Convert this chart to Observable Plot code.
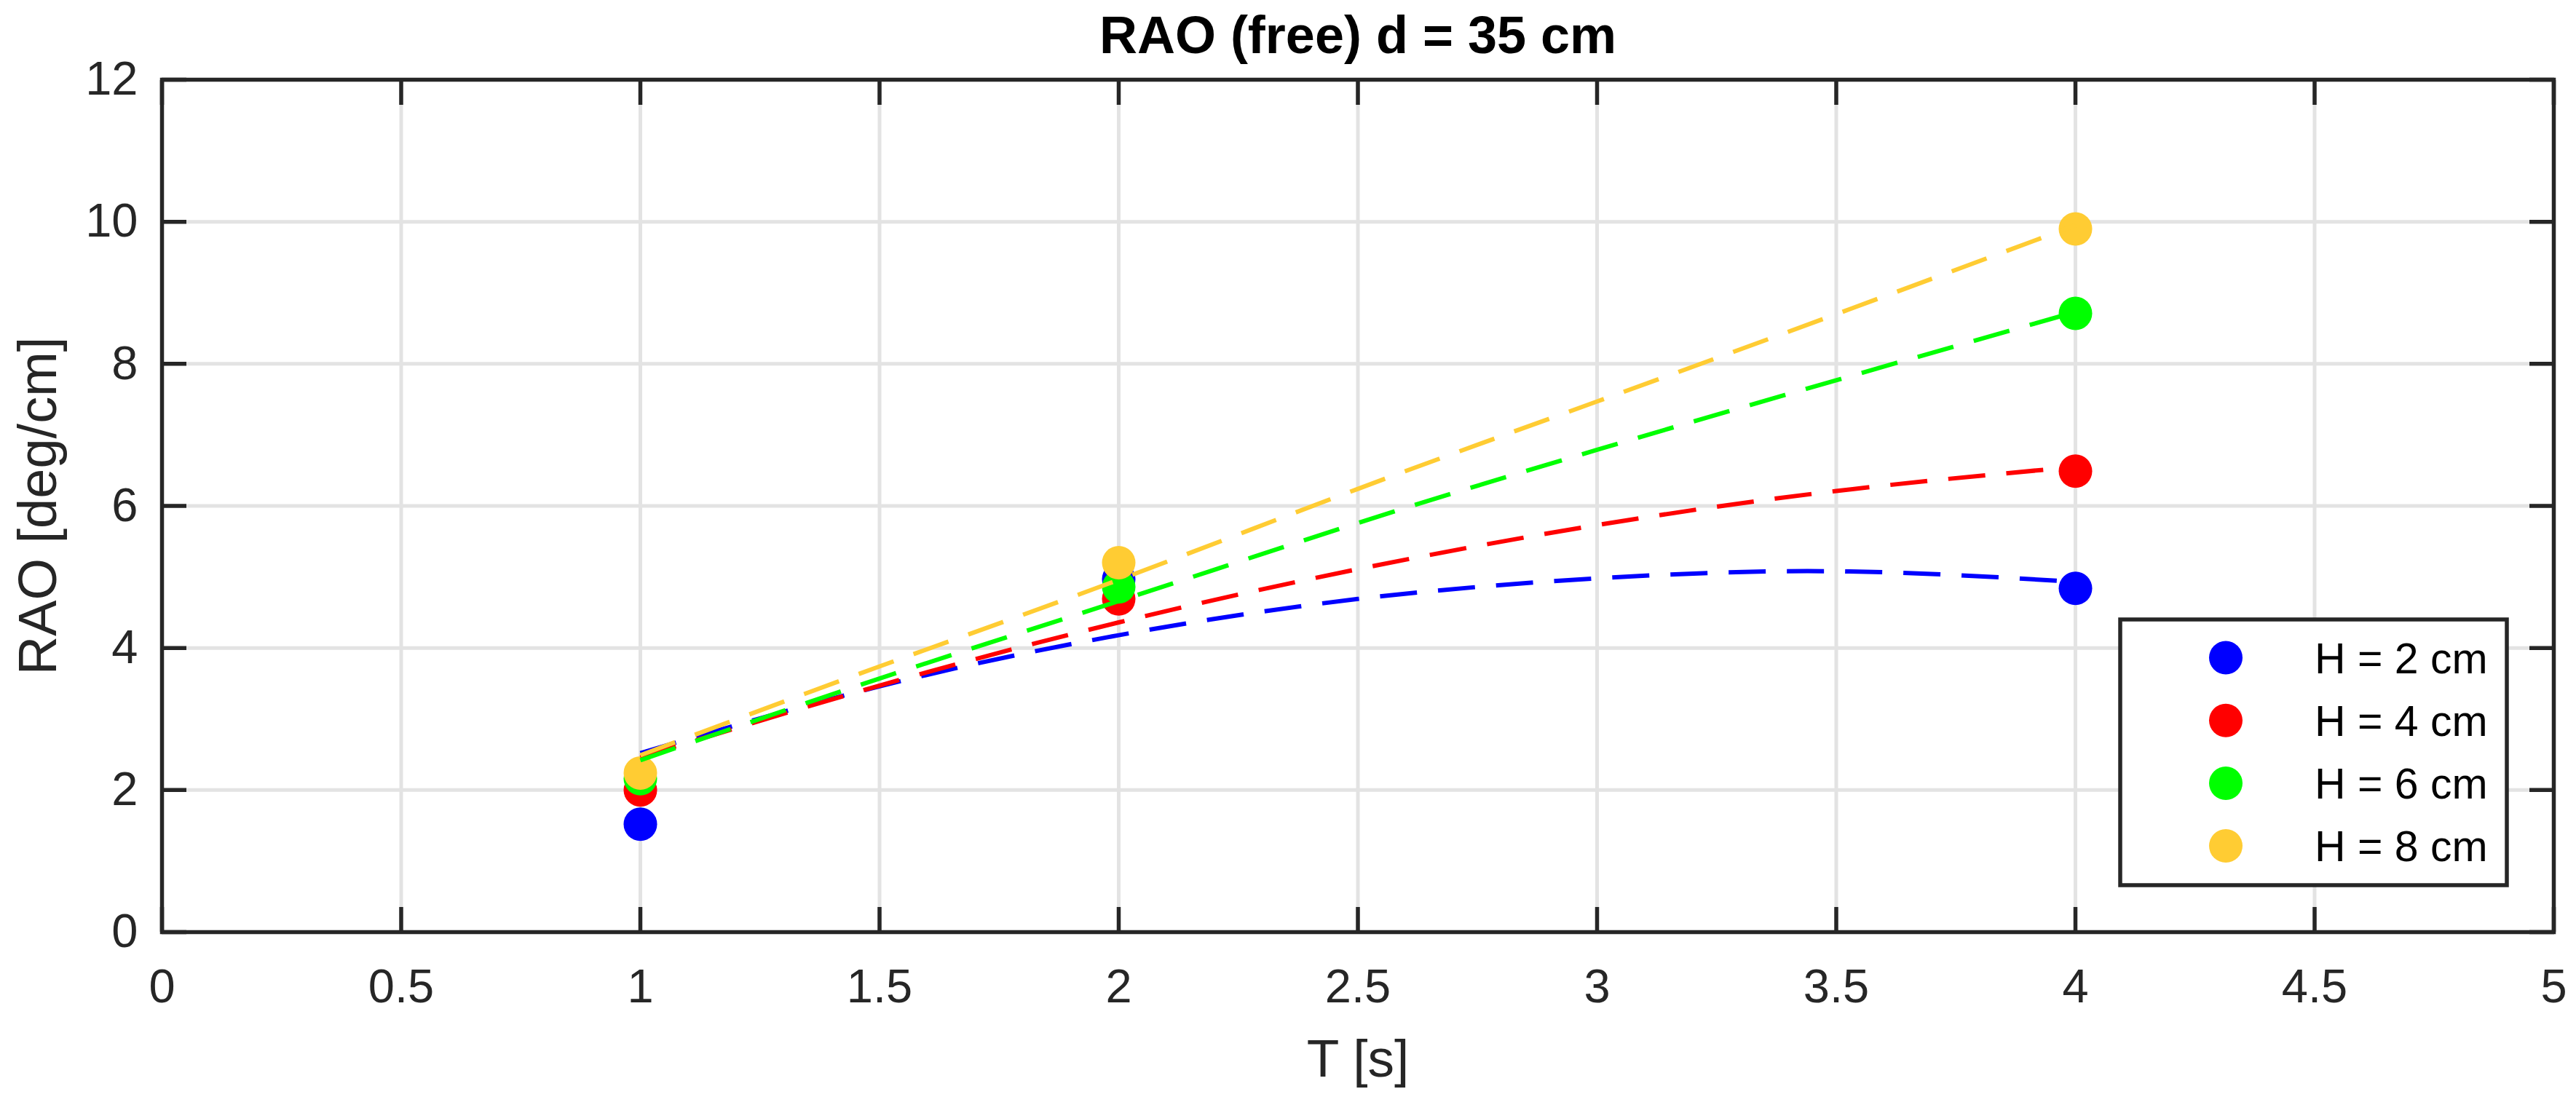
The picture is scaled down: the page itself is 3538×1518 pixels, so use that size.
<!DOCTYPE html>
<html>
<head>
<meta charset="utf-8">
<script src="https://cdn.jsdelivr.net/npm/d3@7"></script>
<script src="https://cdn.jsdelivr.net/npm/@observablehq/plot@0.6"></script>
<style>
html, body { margin: 0; padding: 0; background: #ffffff; }
#chart svg { display: block; }
</style>
</head>
<body>
<div id="chart"></div>
<script>
// ---- text ----
const titleText = "RAO (free) d = 35 cm";
const xLabelText = "T [s]";
const yLabelText = "RAO [deg/cm]";

// ---- series ----
const seriesNames = ["H = 2 cm", "H = 4 cm", "H = 6 cm", "H = 8 cm"];
const seriesColors = ["#0000ff", "#ff0000", "#00ff00", "#ffcc33"];

// ---- ticks ----
const xTicks = [0, 0.5, 1, 1.5, 2, 2.5, 3, 3.5, 4, 4.5, 5];
const yTicks = [0, 2, 4, 6, 8, 10, 12];

// ---- measured points (markers) ----
const measuredT = [1, 2, 4];
const raoH2 = [1.52, 4.97, 4.84];
const raoH4 = [2.00, 4.69, 6.49];
const raoH6 = [2.16, 4.86, 8.71];
const raoH8 = [2.24, 5.20, 9.90];

// ---- fitted curves (dashed) ----
const fitT = [1, 1.5, 2, 2.5, 3, 3.5, 4];
const fitH2 = [2.52, 3.46, 4.18, 4.69, 4.98, 5.08, 4.93];
const fitH4 = [2.46, 3.47, 4.36, 5.11, 5.73, 6.21, 6.55];
const fitH6 = [2.42, 3.57, 4.66, 5.76, 6.79, 7.77, 8.73];
const fitH8 = [2.49, 3.74, 4.96, 6.24, 7.47, 8.70, 9.95];

const measured = [raoH2, raoH4, raoH6, raoH8];
const fits = [fitH2, fitH4, fitH6, fitH8];

const pointRows = seriesNames.flatMap((s, i) => measuredT.map((t, j) => ({series: s, T: t, v: measured[i][j]})));
const fitRows = seriesNames.flatMap((s, i) => fitT.map((t, j) => ({series: s, T: t, v: fits[i][j]})));

const FONT = "'Liberation Sans', Arial, Helvetica, sans-serif";
const AX = "#262626";

const W = 3538, H = 1518;
const mL = 222, mR = 31, mT = 109, mB = 238;

const chart = Plot.plot({
  width: W,
  height: H,
  marginLeft: mL,
  marginRight: mR,
  marginTop: mT,
  marginBottom: mB,
  style: {fontFamily: FONT, background: "#ffffff", color: AX},
  x: {domain: [0, 5], ticks: xTicks, label: null},
  y: {domain: [0, 12], ticks: yTicks, label: null},
  color: {domain: seriesNames, range: seriesColors},
  marks: [
    Plot.gridX(xTicks, {stroke: "#e3e3e3", strokeOpacity: 1, strokeWidth: 5}),
    Plot.gridY(yTicks, {stroke: "#e3e3e3", strokeOpacity: 1, strokeWidth: 5}),
    // inward ticks on all four sides
    Plot.axisX(xTicks, {anchor: "bottom", tickSize: -34, text: null, stroke: AX, strokeWidth: 5.5, label: null}),
    Plot.axisX(xTicks, {anchor: "top", tickSize: -34, text: null, stroke: AX, strokeWidth: 5.5, label: null}),
    Plot.axisY(yTicks, {anchor: "left", tickSize: -34, text: null, stroke: AX, strokeWidth: 5.5, label: null}),
    Plot.axisY(yTicks, {anchor: "right", tickSize: -34, text: null, stroke: AX, strokeWidth: 5.5, label: null}),
    // tick labels
    Plot.axisX(xTicks, {anchor: "bottom", tickSize: 0, tickPadding: 50, fontSize: 65, fill: AX, label: null, tickFormat: d => String(d)}),
    Plot.axisY(yTicks, {anchor: "left", tickSize: 0, tickPadding: 33, fontSize: 65, fill: AX, label: null, tickFormat: d => String(d)}),
    Plot.frame({stroke: AX, strokeWidth: 5.5}),
    // data
    Plot.dot(pointRows, {x: "T", y: "v", fill: "series", r: 23, stroke: null}),
    Plot.line(fitRows, {x: "T", y: "v", z: "series", stroke: "series", curve: "natural", strokeWidth: 6, strokeDasharray: "51,29", strokeLinecap: "butt"}),
    // titles
    Plot.text([titleText], {frameAnchor: "top", textAnchor: "middle", lineAnchor: "top", dy: -88, fontSize: 72, fontWeight: "bold", fill: "#000000"}),
    Plot.text([xLabelText], {frameAnchor: "bottom", textAnchor: "middle", lineAnchor: "top", dy: 147, fontSize: 73, fill: AX}),
    Plot.text([yLabelText], {frameAnchor: "left", textAnchor: "middle", lineAnchor: "top", rotate: -90, dx: -198, fontSize: 74, fill: AX})
  ]
});

document.getElementById("chart").appendChild(chart);

// ---- legend box (layout drawn into the same SVG) ----
const svg = d3.select(chart);
const lg = {x: 2912, y: 851, w: 531, h: 365, row0: 52.5, rowStep: 86.2, markerX: 145, textX: 267};
const g = svg.append("g").attr("class", "legend");
g.append("rect")
  .attr("x", lg.x).attr("y", lg.y).attr("width", lg.w).attr("height", lg.h)
  .attr("fill", "#ffffff").attr("stroke", AX).attr("stroke-width", 5.5);
seriesNames.forEach((name, i) => {
  const cy = lg.y + lg.row0 + i * lg.rowStep;
  g.append("circle").attr("cx", lg.x + lg.markerX).attr("cy", cy).attr("r", 23).attr("fill", seriesColors[i]);
  g.append("text").attr("x", lg.x + lg.textX).attr("y", cy).attr("dy", "0.36em")
    .attr("text-anchor", "start")
    .attr("font-family", FONT).attr("font-size", 59).attr("fill", "#000000").text(name);
});
</script>
</body>
</html>
